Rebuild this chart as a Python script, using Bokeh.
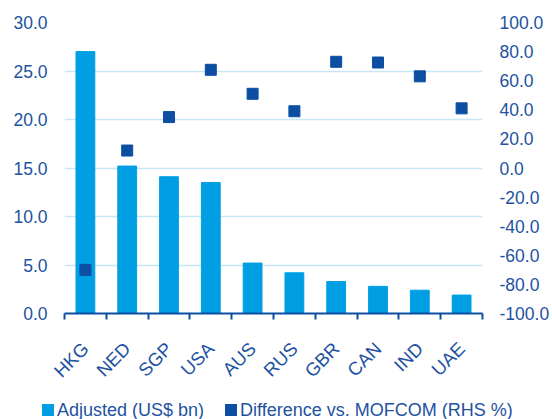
from bokeh.plotting import figure
from bokeh.layouts import column
from bokeh.models import (Range1d, LinearAxis, FixedTicker, NumeralTickFormatter,
                          ColumnDataSource, Div)
from bokeh.embed import file_html
from bokeh.resources import INLINE
import math

countries = ["HKG", "NED", "SGP", "USA", "AUS", "RUS", "GBR", "CAN", "IND", "UAE"]
adjusted = [27.0, 15.2, 14.1, 13.5, 5.2, 4.2, 3.3, 2.8, 2.4, 1.9]
difference = [-70.0, 12.0, 35.0, 67.5, 51.0, 39.0, 73.0, 72.5, 63.0, 41.0]
left_ticks = [0, 5, 10, 15, 20, 25, 30]
right_ticks = [-100, -80, -60, -40, -20, 0, 20, 40, 60, 80, 100]
series_names = ["Adjusted (US$ bn)", "Difference vs. MOFCOM (RHS %)"]

TEXT = "#1E52A2"
BAR = "#009FE3"
DOT = "#0B4EA2"
GRID = "#C6E7F8"
FONT = "Liberation Sans"

xs = [i + 0.5 for i in range(len(countries))]
src = ColumnDataSource(dict(x=xs, adj=adjusted, diff=difference, name=countries))

p = figure(width=552, height=395, output_backend="svg", toolbar_location=None,
           x_range=Range1d(0, len(countries)), y_range=Range1d(0, 30),
           min_border_left=64, min_border_right=70, min_border_top=22,
           min_border_bottom=82)
p.outline_line_color = None
p.extra_y_ranges = {"rhs": Range1d(-100, 100)}

bars = p.vbar(x="x", top="adj", width=0.45, source=src, color=BAR)
pts = p.scatter(x="x", y="diff", source=src, marker="square", size=11,
                color=DOT, y_range_name="rhs")

# axes
p.xaxis.ticker = FixedTicker(ticks=xs, minor_ticks=list(range(len(countries) + 1)))
p.xaxis.major_label_overrides = {x: c for x, c in zip(xs, countries)}
p.xaxis.major_label_orientation = math.pi / 4
p.xaxis.major_tick_out = 0
p.xaxis.major_tick_in = 0
p.xaxis.minor_tick_out = 6
p.xaxis.minor_tick_in = 0
p.xaxis.minor_tick_line_color = DOT
p.xaxis.minor_tick_line_width = 2
p.xaxis.axis_line_color = DOT
p.xaxis.axis_line_width = 2
p.xaxis.major_label_text_color = TEXT
p.xaxis.major_label_text_font = FONT
p.xaxis.major_label_text_font_size = "18.5px"
p.xaxis.major_label_standoff = 26

p.yaxis.ticker = FixedTicker(ticks=left_ticks)
p.yaxis.formatter = NumeralTickFormatter(format="0.0")
ra = LinearAxis(y_range_name="rhs", ticker=FixedTicker(ticks=right_ticks),
                formatter=NumeralTickFormatter(format="0.0"))
p.add_layout(ra, "right")
for ax in (p.yaxis[0], ra):
    ax.axis_line_color = None
    ax.major_tick_line_color = None
    ax.minor_tick_line_color = None
    ax.major_label_text_color = TEXT
    ax.major_label_text_font = FONT
    ax.major_label_text_font_size = "17.5px"
    ax.major_label_standoff = 11

p.xgrid.grid_line_color = None
p.ygrid.grid_line_color = GRID
p.ygrid.grid_line_width = 1.5
p.ygrid.ticker = FixedTicker(ticks=left_ticks)

# legend strip below the chart (HTML text)
def key(color, label, gap):
    return (f'<span style="margin-left:{gap}px;display:inline-block;width:12px;height:12px;'
            f'background:{color};margin-right:3px"></span>{label}')

legend_html = (f'<div style="padding-left:42px;padding-top:6px;white-space:nowrap;'
               f'font-family:{FONT};font-size:18px;color:{TEXT};line-height:18px">'
               + key(BAR, series_names[0], 0) + key(DOT, series_names[1], 21) + '</div>')
lg = Div(text=legend_html, width=552, height=24, margin=0)

open("out.html", "w").write(file_html(column(p, lg), INLINE))
